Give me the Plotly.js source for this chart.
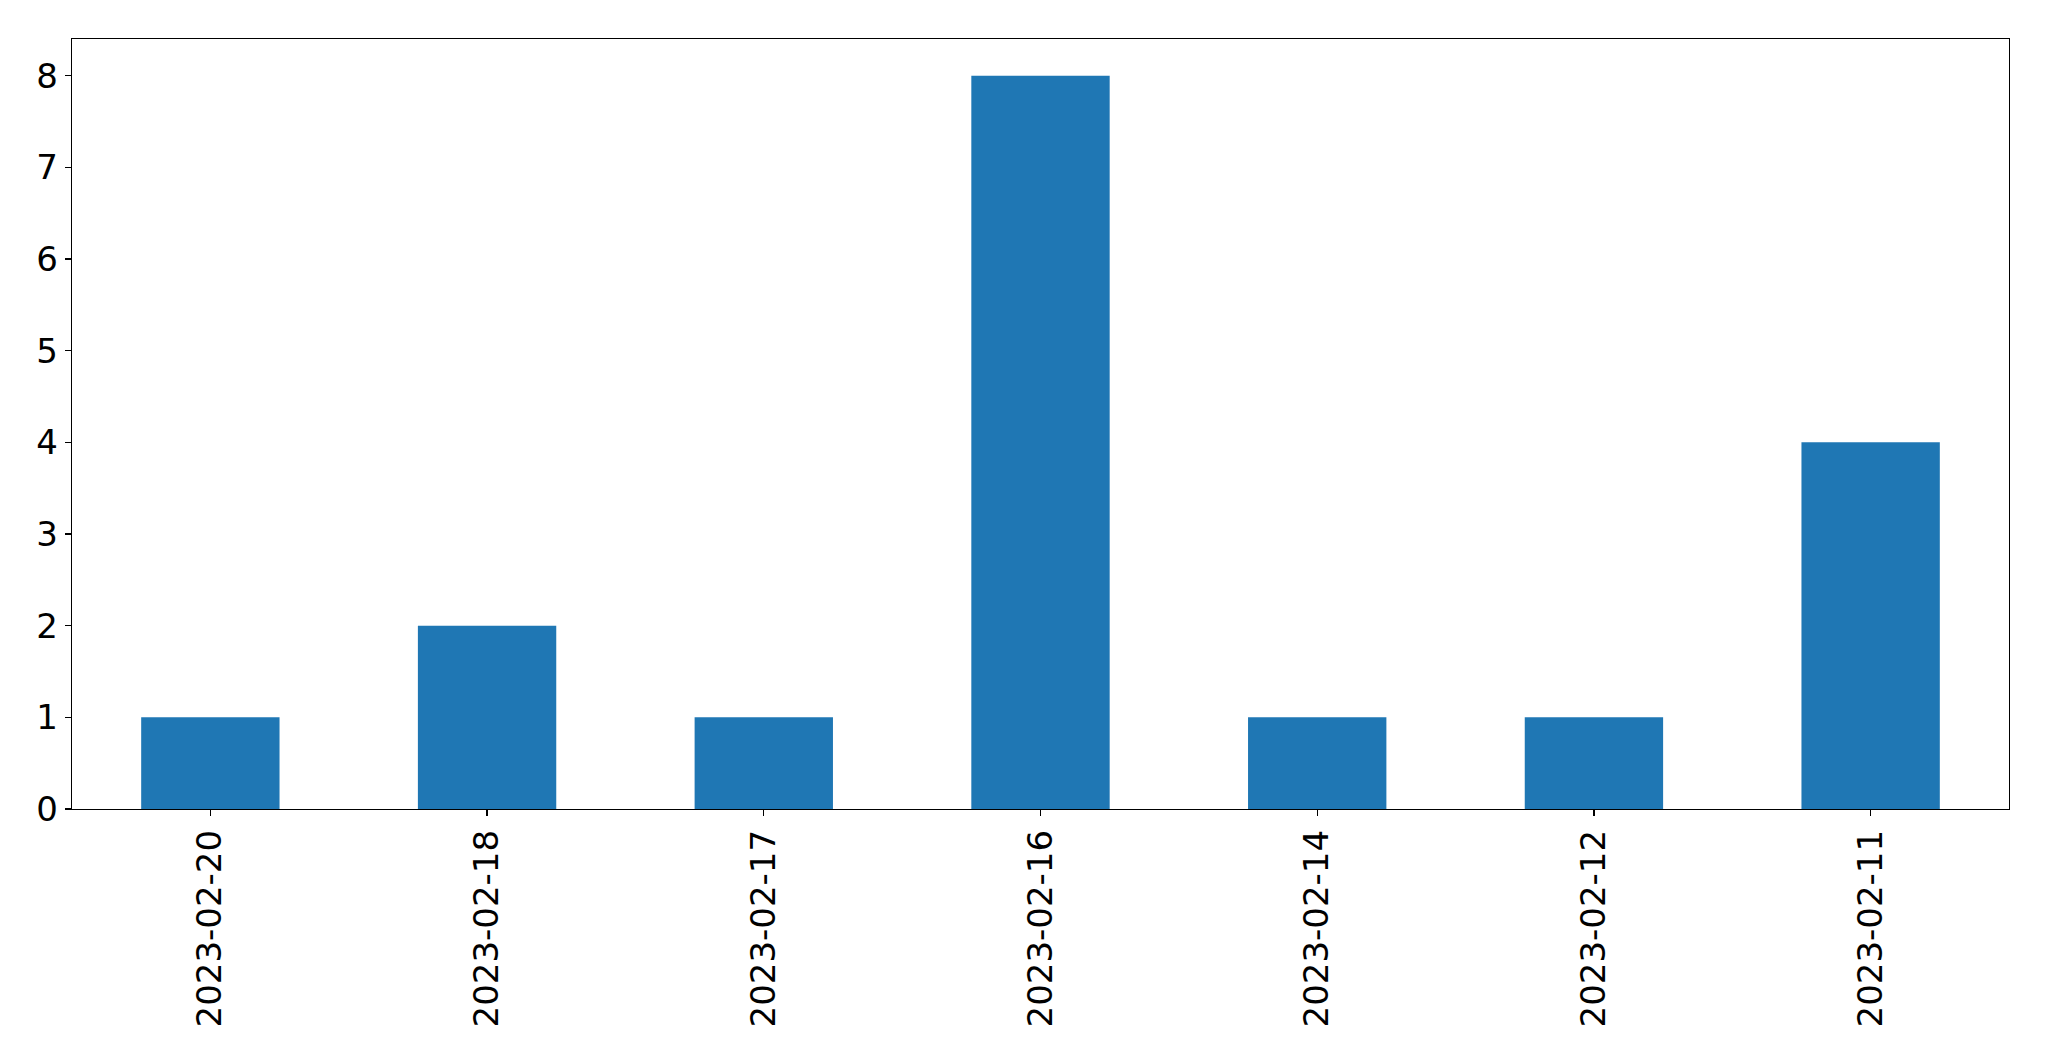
<!DOCTYPE html>
<html>
<head>
<meta charset="utf-8">
<script src="https://cdn.plot.ly/plotly-3.0.1.min.js"></script>
<style>html,body{margin:0;padding:0;background:#fff;}#chart{width:2049px;height:1061px;}</style>
</head>
<body>
<div id="chart"></div>
<script>
const categories = ["2023-02-20", "2023-02-18", "2023-02-17", "2023-02-16", "2023-02-14", "2023-02-12", "2023-02-11"];
const counts = [1, 2, 1, 8, 1, 1, 4];
const yTicks = [0, 1, 2, 3, 4, 5, 6, 7, 8];

const trace = {
  type: 'bar',
  x: categories,
  y: counts,
  marker: {color: '#1f77b4', line: {width: 0}},
  hoverinfo: 'x+y'
};

const axisFont = {family: 'DejaVu Sans, sans-serif', size: 34, color: '#000'};

const layout = {
  width: 2049,
  height: 1061,
  margin: {l: 72, r: 40, t: 39, b: 252},
  paper_bgcolor: '#fff',
  plot_bgcolor: '#fff',
  showlegend: false,
  bargap: 0.5,
  xaxis: {
    type: 'category',
    range: [-0.5, 6.5],
    tickangle: -90,
    tickfont: axisFont,
    ticks: 'outside',
    ticklen: 6,
    tickwidth: 1.3,
    tickcolor: '#000',
    showline: true,
    linecolor: '#000',
    linewidth: 1.3,
    mirror: true,
    showgrid: false,
    zeroline: false
  },
  yaxis: {
    range: [0, 8.4],
    tickvals: yTicks,
    ticktext: yTicks.map(String),
    tickfont: axisFont,
    ticks: 'outside',
    ticklen: 6,
    tickwidth: 1.3,
    tickcolor: '#000',
    showline: true,
    linecolor: '#000',
    linewidth: 1.3,
    mirror: true,
    showgrid: false,
    zeroline: false
  }
};

Plotly.newPlot('chart', [trace], layout, {displayModeBar: false, staticPlot: true});
</script>
</body>
</html>
